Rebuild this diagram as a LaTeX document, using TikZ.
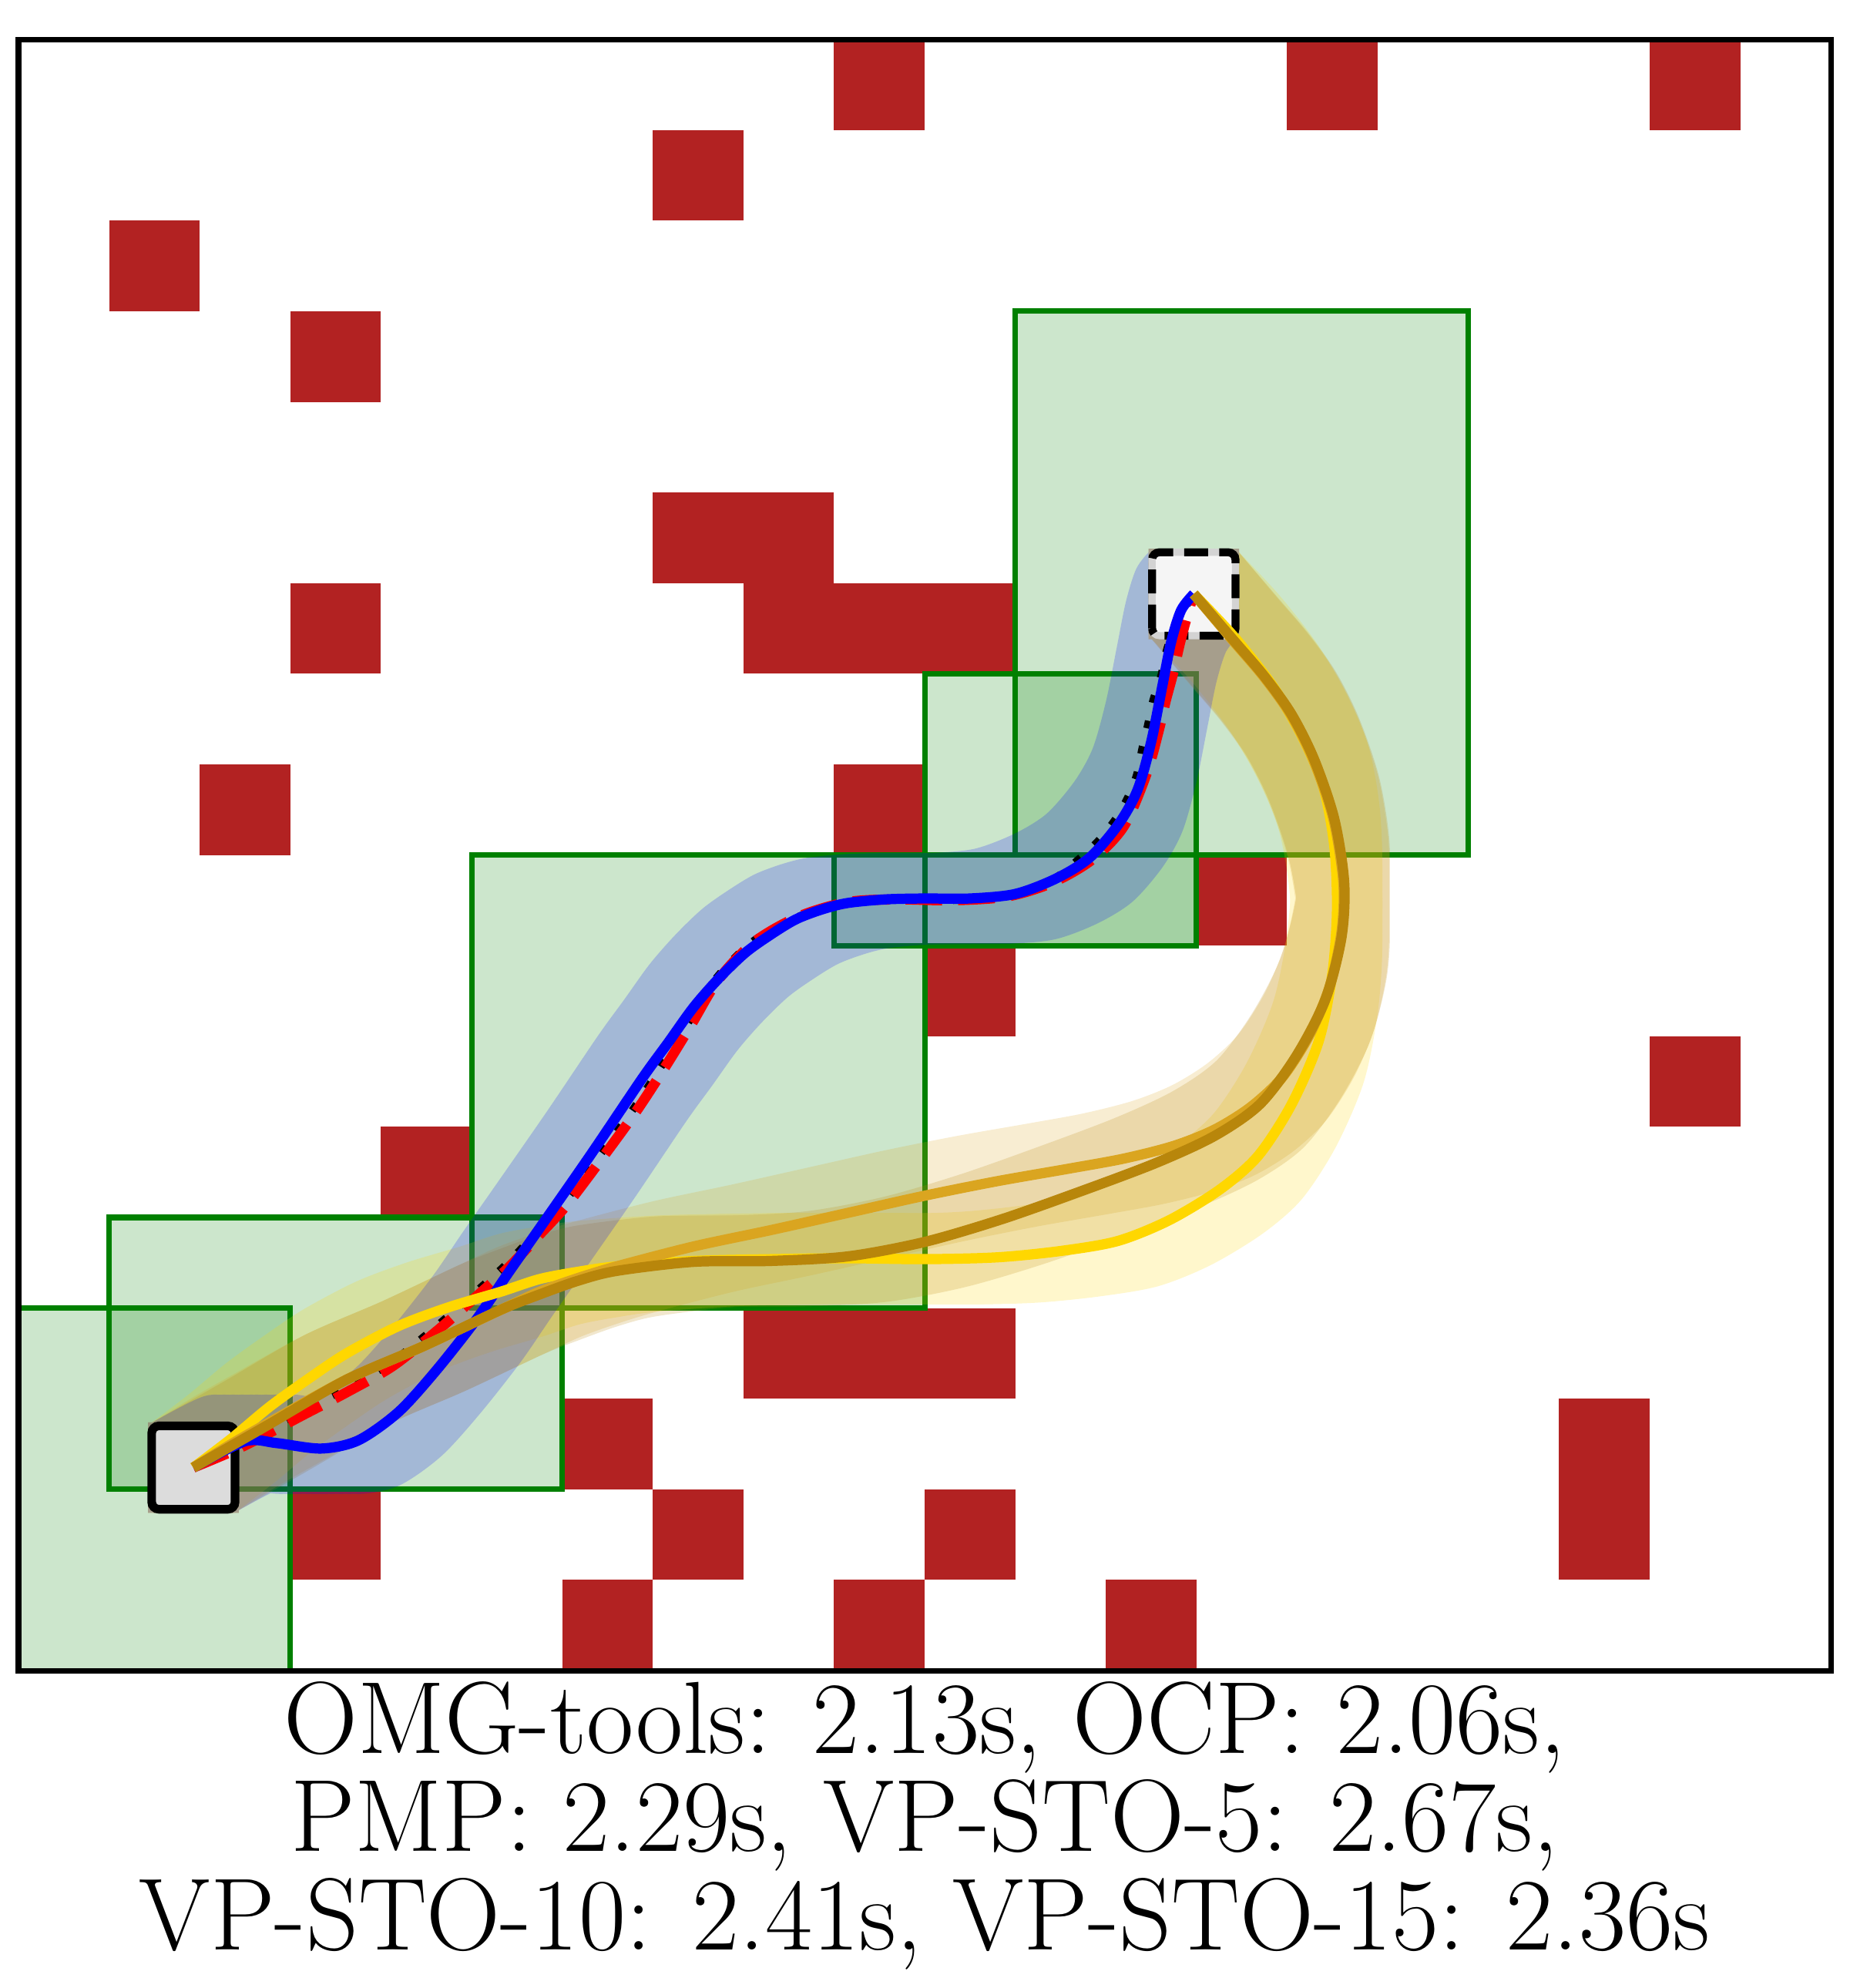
\documentclass[tikz,border=0pt]{standalone}
\definecolor{obst}{HTML}{B22222}
\definecolor{boxgreen}{HTML}{008000}
\definecolor{vgold}{HTML}{FFD700}
\definecolor{vgoldenrod}{HTML}{DAA520}
\definecolor{vdark}{HTML}{B8860B}
\definecolor{startfill}{HTML}{DCDCDC}
\definecolor{goalfill}{HTML}{F5F5F5}
\definecolor{goalring}{HTML}{D3D3D3}
\definecolor{pureblue}{HTML}{0000FF}
\definecolor{purered}{HTML}{FF0000}

\newcommand\trajOMG[2]{plot[smooth, tension=0.5] coordinates {#1 (2.5,2.53) (2.85,2.51) (3.34,2.45) (3.75,2.54) (4.19,2.85) (4.6,3.3) (5.05,3.87) (5.4,4.38) (5.75,4.88) (6.32,5.70) (6.88,6.53) (7.17,6.93) (7.45,7.32) (7.73,7.64) (8.02,7.92) (8.30,8.12) (8.58,8.29) (8.87,8.40) (9.15,8.47) (9.57,8.51) (10.0,8.52) (10.5,8.52) (11.0,8.57) (11.45,8.74) (11.82,8.97) (12.14,9.34) (12.35,9.72) (12.5,10.25) (12.62,10.85) (12.72,11.35) (12.83,11.7) #2}}
\newcommand\trajOCP[2]{plot[smooth, tension=0.5] coordinates {#1 (2.49,2.48) (3.14,2.82) (3.62,3.07) (4.13,3.36) (4.62,3.75) (5.01,4.09) (5.41,4.45) (5.75,4.81) (6.06,5.15) (6.49,5.72) (6.83,6.19) (7.13,6.65) (7.42,7.12) (7.72,7.62) (8.12,8.04) (8.61,8.32) (9.15,8.48) (9.7,8.51) (10.3,8.50) (10.9,8.54) (11.4,8.69) (11.85,8.95) (12.2,9.32) (12.45,9.9) (12.58,10.36) (12.66,10.70) (12.74,11.0) (12.82,11.35) (12.90,11.65) #2}}
\newcommand\trajPMP[2]{plot[smooth, tension=0.5] coordinates {#1 (2.47,2.50) (3.11,2.85) (3.59,3.10) (4.10,3.39) (4.59,3.78) (4.98,4.12) (5.38,4.48) (5.72,4.84) (6.03,5.18) (6.46,5.75) (6.80,6.22) (7.10,6.68) (7.39,7.15) (7.70,7.64) (8.11,8.05) (8.61,8.32) (9.15,8.48) (9.7,8.51) (10.3,8.50) (10.9,8.55) (11.4,8.72) (11.72,8.97) (11.93,9.17) (12.11,9.40) (12.24,9.63) (12.34,9.88) (12.40,10.17) (12.46,10.42) (12.52,10.70) (12.61,10.98) (12.68,11.29) (12.8,11.6) #2}}
\newcommand\trajVfive[2]{plot[smooth, tension=0.5] coordinates {#1 (2.35,2.56) (2.77,2.91) (3.20,3.22) (3.62,3.50) (4.19,3.80) (4.75,4.01) (5.32,4.18) (5.75,4.32) (6.17,4.40) (6.60,4.46) (7.45,4.52) (8.3,4.54) (9.15,4.55) (10.0,4.54) (10.8,4.56) (11.5,4.63) (12.13,4.74) (12.70,4.97) (13.26,5.31) (13.68,5.68) (14.05,6.25) (14.35,6.95) (14.50,7.7) (14.55,8.4) (14.52,9.1) (14.40,9.75) (14.17,10.3) (13.85,10.85) (13.43,11.39) #2}}
\newcommand\trajVten[2]{plot[smooth, tension=0.5] coordinates {#1 (2.35,2.50) (2.77,2.74) (3.62,3.21) (4.47,3.58) (5.32,3.98) (5.75,4.18) (6.17,4.33) (6.60,4.46) (7.45,4.68) (8.30,4.86) (9.15,5.05) (10.0,5.24) (10.8,5.40) (11.6,5.54) (12.2,5.65) (12.75,5.79) (13.2,5.97) (13.6,6.22) (13.95,6.55) (14.25,7.02) (14.47,7.55) (14.60,8.15) (14.62,8.7) (14.51,9.4) (14.29,10.05) (14.04,10.55) (13.74,10.97) (13.39,11.38) #2}}
\newcommand\trajVfifteen[2]{plot[smooth, tension=0.5] coordinates {#1 (2.35,2.48) (2.77,2.72) (3.62,3.21) (4.47,3.58) (5.32,3.98) (5.75,4.15) (6.17,4.30) (6.60,4.41) (7.45,4.51) (8.30,4.52) (9.15,4.57) (10.0,4.73) (10.85,4.98) (11.7,5.28) (12.55,5.60) (13.2,5.90) (13.7,6.25) (14.1,6.78) (14.42,7.40) (14.60,8.09) (14.63,8.7) (14.52,9.4) (14.30,10.05) (14.05,10.55) (13.75,10.97) (13.40,11.38) #2}}
\newcommand\cornerpts{0.43/0.03,0.43/0.13,0.43/0.23,0.43/0.33,0.43/0.43,0.33/0.33,0.33/0.43,0.23/0.43,0.13/0.43,0.03/0.43}

\tikzset{
  obstacle/.style={fill=obst},
  corridor/.style={fill=boxgreen, fill opacity=0.2, draw=boxgreen, line width=1.7pt},
  sweepcore/.style={draw=#1, line width=1cm, line join=round, line cap=round},
  sweepedge/.style={draw=#1, line width=0.1414cm, line join=round, line cap=round},
  traj/.style={line width=3.2pt, line join=round, line cap=butt},
  startmark/.style={draw=black, line width=2.7pt, fill=startfill, minimum size=0.92cm, inner sep=0pt, outer sep=0pt, rounded corners=0.08cm},
  goalbase/.style={draw=goalring, line width=2.2pt, fill=goalfill, minimum size=0.92cm, inner sep=0pt, outer sep=0pt, rounded corners=0.08cm},
  goaldash/.style={draw=black, line width=2.5pt, rounded corners=0.08cm, dash pattern=on 7.5pt off 3.5pt},
  frame/.style={draw=black, line width=1.7pt},
  captext/.style={anchor=base, font=\fontsize{32.2}{32.2}\selectfont, inner sep=0pt}
}

\begin{document}
\begin{tikzpicture}
\useasboundingbox (-0.204,-3.503) rectangle (20.204,18.435);
\coordinate (start) at (1.93,2.24);
\coordinate (goal) at (12.97,11.88);

% obstacles
\foreach \x/\y in {9/17,14/17,18/17,7/16,1/15,3/14,7/12,8/12,8/11,9/11,10/11,3/11,2/9,9/9,13/8,10/7,18/6,4/5,8/3,9/3,10/3,6/2,17/2,17/1,3/1,7/1,10/1,6/0,9/0,12/0}
  \fill[obstacle] (\x,\y) rectangle ++(1,1);

% free-space boxes
\foreach \a/\b/\c/\d in {0/0/3/4, 1/2/6/5, 5/4/10/9, 9/8/13/9, 10/8/13/11, 11/9/16/15}
  \path[corridor] (\a,\b) rectangle (\c,\d);

% swept footprints of the square robot
\foreach \traj/\col in {\trajVfive/vgold, \trajVten/vgoldenrod, \trajVfifteen/vdark, \trajOMG/pureblue}{
  \begin{scope}[transparency group, opacity=0.2]
    \fill[\col] (1.43,1.74) rectangle (2.43,2.74);
    \fill[\col] (12.47,11.38) rectangle (13.47,12.38);
    \draw[sweepcore=\col] \traj{(1.93,2.24)}{(12.97,11.88)};
    \foreach \sx in {1,-1}
      \foreach \sy in {1,-1}
        \foreach \px/\py in \cornerpts
          \draw[sweepedge=\col, shift={(\sx*\px,\sy*\py)}] \traj{(1.93,2.24)}{(12.97,11.88)};
  \end{scope}
}

% start and goal
\node[startmark] (startbox) at (start) {};
\node[goalbase] (goalbox) at (goal) {};
\draw[goaldash] (goalbox.south west) rectangle (goalbox.north east);

% trajectories
\draw[traj, black, line width=2.4pt, dash pattern=on 2.4pt off 5.8pt] \trajPMP{(start)}{(goal)};
\draw[traj, purered, dash pattern=on 11.5pt off 5pt] \trajOCP{(start)}{(goal)};
\draw[traj, pureblue] \trajOMG{(start)}{(goal)};
\draw[traj, vgold] \trajVfive{(start)}{(goal)};
\draw[traj, vgoldenrod] \trajVten{(start)}{(goal)};
\draw[traj, vdark] \trajVfifteen{(start)}{(goal)};

% frame
\draw[frame] (0,0) rectangle (20,18);

% caption
\node[captext] (cap1) at (10,-0.91) {OMG-tools: 2.13s, OCP: 2.06s,};
\node[captext] (cap2) at (10,-1.99) {PMP: 2.29s, VP-STO-5: 2.67s,};
\node[captext] (cap3) at (10,-3.08) {VP-STO-10: 2.41s, VP-STO-15: 2.36s};
\end{tikzpicture}
\end{document}
